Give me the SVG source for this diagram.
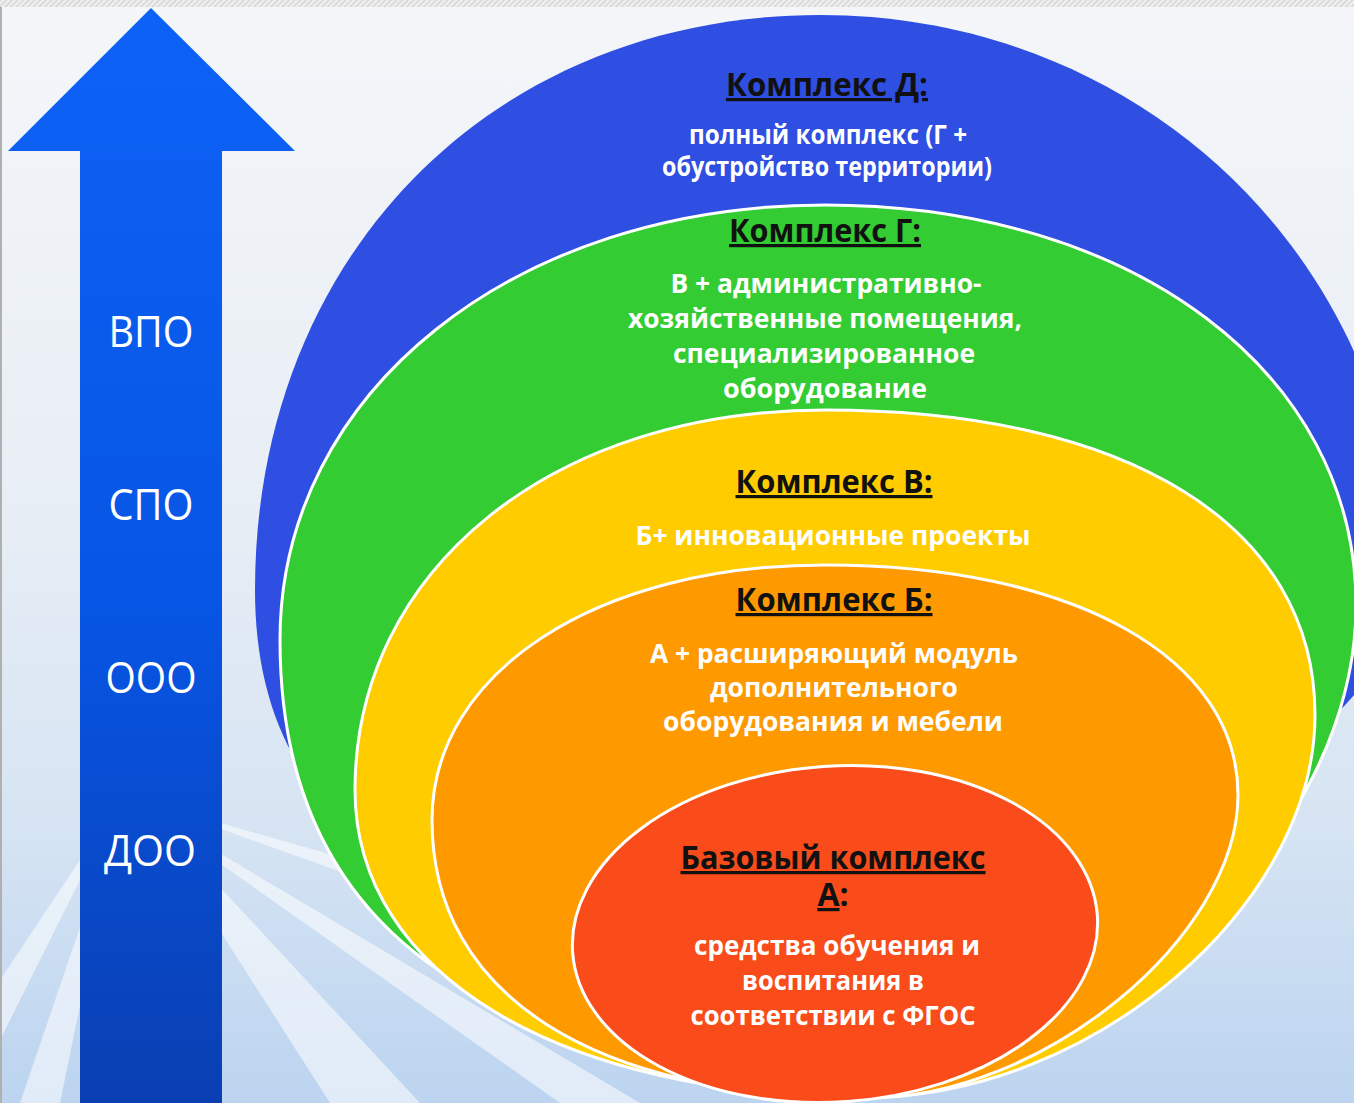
<svg xmlns="http://www.w3.org/2000/svg" width="1354" height="1103" viewBox="0 0 1354 1103">
  <defs>
    <linearGradient id="bg" x1="0" y1="0" x2="0" y2="1">
      <stop offset="0" stop-color="#F4F6F9"/>
      <stop offset="0.45" stop-color="#E8EEF5"/>
      <stop offset="0.75" stop-color="#D6E4F3"/>
      <stop offset="1" stop-color="#BCD4F0"/>
    </linearGradient>
    <linearGradient id="arrowGrad" x1="0" y1="0" x2="0" y2="1">
      <stop offset="0" stop-color="#0D62F6"/>
      <stop offset="0.55" stop-color="#0755E4"/>
      <stop offset="1" stop-color="#0A3FB2"/>
    </linearGradient>
    <pattern id="hatch" width="4" height="4" patternUnits="userSpaceOnUse" patternTransform="rotate(45)">
      <rect width="4" height="4" fill="#EDEDED"/>
      <line x1="0" y1="0" x2="0" y2="4" stroke="#C4C4C4" stroke-width="1.5"/>
    </pattern>
  </defs>
  <style>
    .lvl { font-family: "Open Sans", "Noto Sans", "Liberation Sans", sans-serif; font-size: 44px; fill: #FFFFFF; text-anchor: middle; }
    .title { font-family: "Open Sans", "Noto Sans", "Liberation Sans", sans-serif; font-size: 32px; font-weight: bold; fill: #111111; text-anchor: middle; text-decoration: underline; }
    .desc { font-family: "Open Sans", "Noto Sans", "Liberation Sans", sans-serif; font-size: 27px; font-weight: bold; fill: #FFFFFF; text-anchor: middle; }
    .ring { stroke: #FFFFFF; stroke-width: 3; }
  </style>

  <!-- background -->
  <rect x="0" y="0" width="1354" height="1103" fill="url(#bg)"/>
  <g opacity="0.55" fill="#FFFFFF">
    <polygon points="120,800 0,980 0,1040"/>
    <polygon points="130,790 330,1103 420,1103"/>
    <polygon points="140,800 700,960 700,1000"/>
    <polygon points="130,800 560,1103 640,1103"/>
    <polygon points="120,810 20,1103 60,1103"/>
  </g>
  <rect x="0" y="0" width="1354" height="7" fill="url(#hatch)"/>
  <rect x="0" y="7" width="2" height="1096" fill="#B0B0B0"/>

  <!-- arrow -->
  <g id="arrow">
    <polygon points="151,8 295,151 222,151 222,1103 80,1103 80,151 8,151" fill="url(#arrowGrad)"/>
    <text class="lvl" x="151" y="347" textLength="85" lengthAdjust="spacingAndGlyphs">ВПО</text>
    <text class="lvl" x="151" y="520" textLength="85" lengthAdjust="spacingAndGlyphs">СПО</text>
    <text class="lvl" x="151" y="693" textLength="91" lengthAdjust="spacingAndGlyphs">ООО</text>
    <text class="lvl" x="150" y="866" textLength="92" lengthAdjust="spacingAndGlyphs">ДОО</text>
  </g>

  <!-- complex D -->
  <g id="complex-d">
    <path d="M255,590 C255,256.5 492.3,15 820,15 C1147.6,15 1405,268 1405,590 C1405,727 1048.5,950 830,950 C439,950 255,835 255,590 Z" fill="#2F4EE2"/>
    <text class="title" x="827" y="96" textLength="202" lengthAdjust="spacingAndGlyphs">Комплекс Д:</text>
    <text class="desc" x="828" y="144" textLength="278" lengthAdjust="spacingAndGlyphs">полный комплекс (Г +</text>
    <text class="desc" x="827" y="176" textLength="330" lengthAdjust="spacingAndGlyphs">обустройство территории)</text>
  </g>

  <!-- complex G -->
  <g id="complex-g">
    <path class="ring" d="M280,640 C280,392 514.3,205 825,205 C1133,205 1356,373 1356,605 C1356,837.5 1108,1070 860,1070 C477,1070 280,924 280,640 Z" fill="#33CC33"/>
    <text class="title" x="825" y="242" textLength="192" lengthAdjust="spacingAndGlyphs">Комплекс Г:</text>
    <text class="desc" x="826" y="293" textLength="311" lengthAdjust="spacingAndGlyphs">В + административно-</text>
    <text class="desc" x="825" y="328" textLength="394" lengthAdjust="spacingAndGlyphs">хозяйственные помещения,</text>
    <text class="desc" x="824" y="363" textLength="302" lengthAdjust="spacingAndGlyphs">специализированное</text>
    <text class="desc" x="825" y="398" textLength="204" lengthAdjust="spacingAndGlyphs">оборудование</text>
  </g>

  <!-- complex V -->
  <g id="complex-v">
    <path class="ring" d="M355,790 C355,569.6 552.4,410 825,410 C1128.8,410 1315,525.9 1315,715 C1315,906 1091.5,1097 868,1097 C560.2,1097 355,974.2 355,790 Z" fill="#FFCC00"/>
    <text class="title" x="834" y="493" textLength="197" lengthAdjust="spacingAndGlyphs">Комплекс В:</text>
    <text class="desc" x="833" y="545" textLength="395" lengthAdjust="spacingAndGlyphs">Б+ инновационные проекты</text>
  </g>

  <!-- complex B -->
  <g id="complex-b">
    <path class="ring" d="M432,820 C432,672.1 597,565 825,565 C1072.8,565 1238,657 1238,795 C1238,937.4 1041.9,1098 868,1098 C593.3,1098 432,995.1 432,820 Z" fill="#FF9900"/>
    <text class="title" x="834" y="611" textLength="197" lengthAdjust="spacingAndGlyphs">Комплекс Б:</text>
    <text class="desc" x="834" y="663" textLength="368" lengthAdjust="spacingAndGlyphs">А + расширяющий модуль</text>
    <text class="desc" x="834" y="697" textLength="248" lengthAdjust="spacingAndGlyphs">дополнительного</text>
    <text class="desc" x="833" y="731" textLength="340" lengthAdjust="spacingAndGlyphs">оборудования и мебели</text>
  </g>

  <!-- complex A -->
  <g id="complex-a">
    <ellipse class="ring" cx="835" cy="934" rx="263" ry="168" fill="#FA4B1A" transform="rotate(-4 835 934)"/>
    <text class="title" x="833" y="869" textLength="305" lengthAdjust="spacingAndGlyphs">Базовый комплекс</text>
    <text class="title" x="833" y="906" style="text-decoration:none"><tspan text-decoration="underline">А</tspan>:</text>
    <text class="desc" x="837" y="955" textLength="286" lengthAdjust="spacingAndGlyphs">средства обучения и</text>
    <text class="desc" x="833" y="990" textLength="182" lengthAdjust="spacingAndGlyphs">воспитания в</text>
    <text class="desc" x="833" y="1025" textLength="285" lengthAdjust="spacingAndGlyphs">соответствии с ФГОС</text>
  </g>

  <g id="connectors"/>
</svg>
